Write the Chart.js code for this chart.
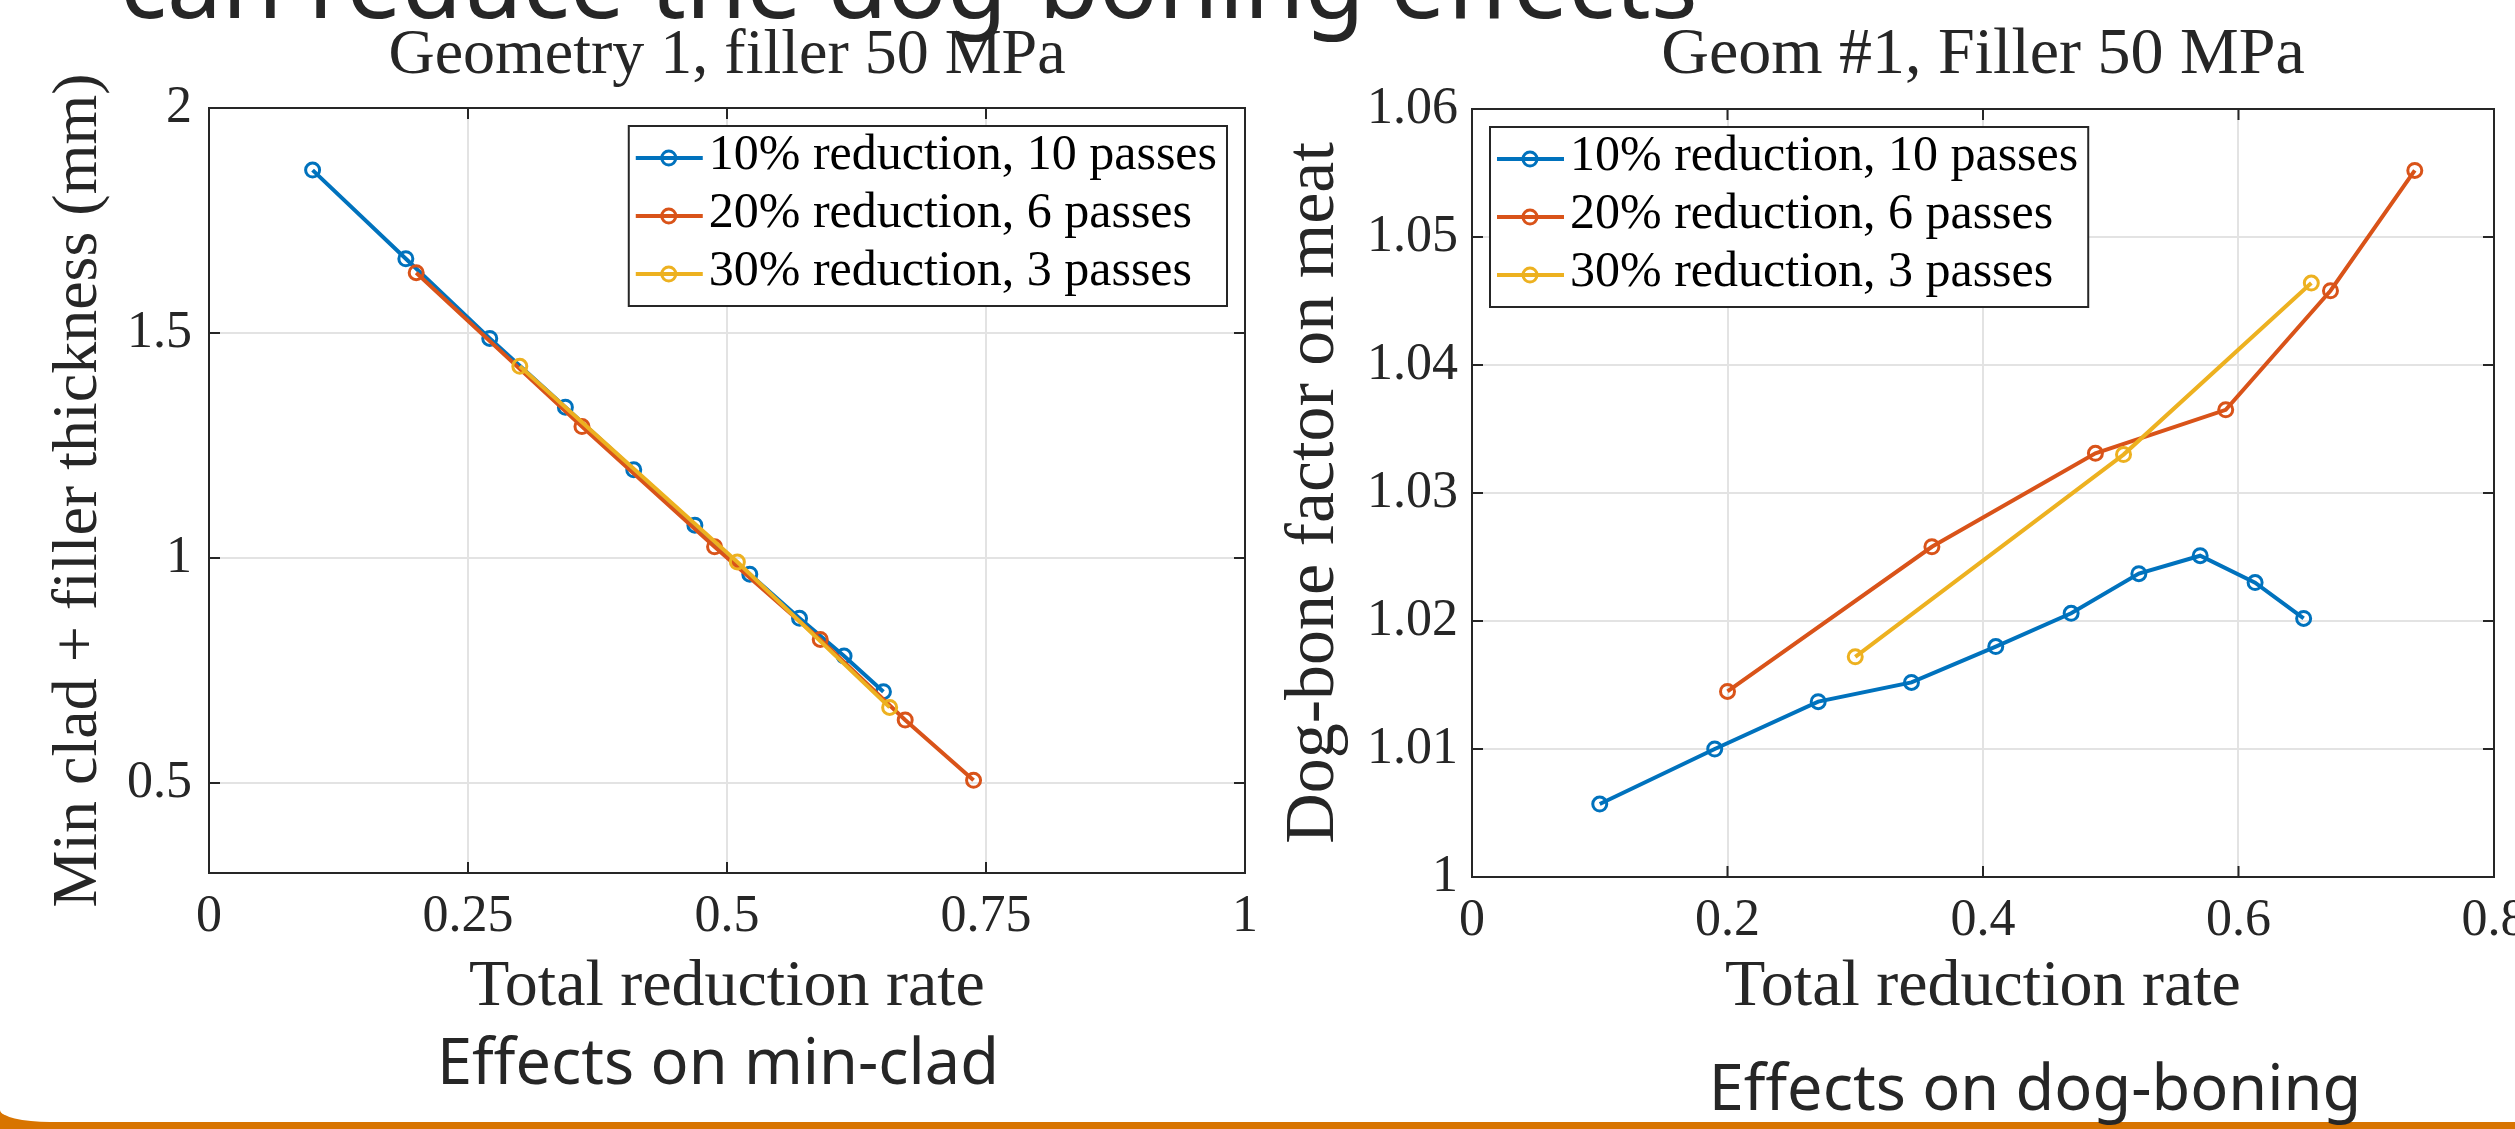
<!DOCTYPE html>
<html>
<head>
<meta charset="utf-8">
<script src="https://cdn.jsdelivr.net/npm/chart.js@4.4.1/dist/chart.umd.min.js"></script>
<style>
  html, body { margin: 0; padding: 0; background: #fff; }
  body { width: 2515px; height: 1129px; position: relative; overflow: hidden; }
  canvas { position: absolute; top: 0; }
  #minClad { left: 0; }
  #dogBone { left: 1250px; }
  .slide { position: absolute; font-family: 'Noto Sans', sans-serif; color: #262626; white-space: nowrap; }
  #heading { left: 120px; top: -69px; font-size: 98px; line-height: 98px; }
  .caption { font-size: 63px; line-height: 63px; width: 700px; text-align: center; z-index: 3; }
  #capLeft { left: 368px; top: 1028px; }
  #capRight { left: 1685px; top: 1054px; }
  #cornerFill { position: absolute; left: 0; top: 1100px; width: 80px; height: 29px; background: #d87400; }
  #cornerMask { position: absolute; left: 0; top: 1040px; width: 120px; height: 82px; background: #fff; border-bottom-left-radius: 50px 12px; }
  #bar { position: absolute; left: 0; top: 1122px; width: 2515px; height: 7px; background: #d87400; }
</style>
</head>
<body>
<div class="slide" id="heading">can reduce the dog-boning effects</div>
<canvas id="minClad" width="1262" height="1040"></canvas>
<canvas id="dogBone" width="1265" height="1040"></canvas>
<div id="cornerFill"></div>
<div id="cornerMask"></div>
<div id="bar"></div>
<div class="slide caption" id="capLeft">Effects on min-clad</div>
<div class="slide caption" id="capRight">Effects on dog-boning</div>
<script>
// total reduction rate after each pass
const rate10 = [0.100, 0.190, 0.271, 0.344, 0.410, 0.469, 0.522, 0.570, 0.613, 0.651];
const rate20 = [0.200, 0.360, 0.488, 0.590, 0.672, 0.738];
const rate30 = [0.300, 0.510, 0.657];

// min clad + filler thickness (mm)
const minClad10 = [1.862, 1.665, 1.488, 1.335, 1.196, 1.073, 0.964, 0.866, 0.782, 0.703];
const minClad20 = [1.634, 1.292, 1.025, 0.819, 0.640, 0.506];
const minClad30 = [1.426, 0.991, 0.668];

// dog-bone factor on meat
const dogBone10 = [1.0057, 1.0100, 1.0137, 1.0152, 1.0180, 1.0206, 1.0237, 1.0251, 1.0230, 1.0202];
const dogBone20 = [1.0145, 1.0258, 1.0331, 1.0365, 1.0458, 1.0552];
const dogBone30 = [1.0172, 1.0330, 1.0464];

const seriesNames = ['10% reduction, 10 passes', '20% reduction, 6 passes', '30% reduction, 3 passes'];

const leftXTicks = [0, 0.25, 0.5, 0.75, 1];
const leftYTicks = [0.5, 1, 1.5, 2];
const rightXTicks = [0, 0.2, 0.4, 0.6, 0.8];
const rightYTicks = [1, 1.01, 1.02, 1.03, 1.04, 1.05, 1.06];

const colors = ['#0072bd', '#d95319', '#edb120'];
const ink = '#262626';
const serif = "'Liberation Serif', 'Times New Roman', serif";

function pairs(xs, ys) {
  return xs.map((x, i) => ({ x: x, y: ys[i] }));
}

function makeDatasets(ys) {
  const xs = [rate10, rate20, rate30];
  return ys.map((y, i) => ({
    label: seriesNames[i],
    data: pairs(xs[i], y),
    borderColor: colors[i],
    borderWidth: 4,
    pointStyle: 'circle',
    pointRadius: 7,
    pointBorderWidth: 3,
    pointBackgroundColor: 'rgba(0,0,0,0)',
    pointBorderColor: colors[i],
    tension: 0,
    clip: false,
    order: 2 - i,
  }));
}

// box round the axes with inward tick marks, like matlab
const matlabAxes = {
  id: 'matlabAxes',
  beforeDatasetsDraw(chart) {
    const { ctx, chartArea: a, scales: { x, y } } = chart;
    const len = 11;
    ctx.save();
    ctx.strokeStyle = ink;
    ctx.lineWidth = 2;
    ctx.beginPath();
    x.ticks.forEach(t => {
      const px = x.getPixelForValue(t.value);
      ctx.moveTo(px, a.bottom); ctx.lineTo(px, a.bottom - len);
      ctx.moveTo(px, a.top); ctx.lineTo(px, a.top + len);
    });
    y.ticks.forEach(t => {
      const py = y.getPixelForValue(t.value);
      ctx.moveTo(a.left, py); ctx.lineTo(a.left + len, py);
      ctx.moveTo(a.right, py); ctx.lineTo(a.right - len, py);
    });
    ctx.rect(a.left, a.top, a.width, a.height);
    ctx.stroke();
    ctx.restore();
  }
};

// legend drawn as a box inside the plot area
const boxLegend = {
  id: 'boxLegend',
  afterDatasetsDraw(chart, args, opts) {
    const { ctx, chartArea: a } = chart;
    const sets = chart.data.datasets;
    ctx.save();
    ctx.font = opts.size + 'px ' + serif;
    const textW = Math.max(...sets.map(d => ctx.measureText(d.label).width));
    const w = 80 + textW + 10;
    const h = 64 + opts.rowGap * (sets.length - 1);
    const left = opts.corner === 'ne' ? a.right - opts.inset - w : a.left + opts.inset;
    const top = a.top + opts.inset;
    ctx.fillStyle = '#fff';
    ctx.fillRect(left, top, w, h);
    ctx.strokeStyle = ink;
    ctx.lineWidth = 2;
    ctx.strokeRect(left, top, w, h);
    sets.forEach((d, i) => {
      const cy = top + 32 + i * opts.rowGap;
      ctx.strokeStyle = d.borderColor;
      ctx.lineWidth = 4;
      ctx.beginPath();
      ctx.moveTo(left + 7, cy);
      ctx.lineTo(left + 74, cy);
      ctx.stroke();
      ctx.lineWidth = 3;
      ctx.beginPath();
      ctx.arc(left + 40, cy, 7, 0, Math.PI * 2);
      ctx.stroke();
      ctx.fillStyle = '#000';
      ctx.textAlign = 'left';
      ctx.textBaseline = 'middle';
      ctx.fillText(d.label, left + 80, cy - 2);
    });
    ctx.restore();
  }
};

function makeChart(id, o) {
  return new Chart(document.getElementById(id), {
    type: 'line',
    data: { datasets: makeDatasets(o.ys) },
    options: {
      responsive: false,
      animation: false,
      layout: { padding: { left: 0, right: o.padRight, top: 0, bottom: 0 } },
      plugins: {
        legend: { display: false },
        tooltip: { enabled: false },
        title: {
          display: true,
          text: o.title,
          fullSize: false,
          color: ink,
          font: { family: serif, size: o.titleSize, weight: 'normal', lineHeight: 1.2 },
          padding: { top: o.titleTop, bottom: o.titleBottom }
        },
        boxLegend: { corner: o.legendCorner, inset: 18, size: 50, rowGap: 58 }
      },
      scales: {
        x: {
          type: 'linear',
          min: o.xTicks[0],
          max: o.xTicks[o.xTicks.length - 1],
          afterBuildTicks: s => { s.ticks = o.xTicks.map(v => ({ value: v })); },
          afterFit: s => { s.height = o.xAxisHeight; s.paddingLeft = 0; s.paddingRight = 0; },
          grid: { color: '#e3e3e3', lineWidth: 2, drawTicks: false },
          border: { display: false },
          ticks: {
            color: ink, padding: 13, maxRotation: 0, autoSkip: false,
            font: { family: serif, size: 52 },
            callback: v => String(v)
          },
          title: {
            display: true, text: 'Total reduction rate', color: ink,
            font: { family: serif, size: 66, lineHeight: 1.2 },
            padding: { top: 0, bottom: 13 }
          }
        },
        y: {
          type: 'linear',
          min: o.yMin,
          max: o.yTicks[o.yTicks.length - 1],
          afterBuildTicks: s => { s.ticks = o.yTicks.map(v => ({ value: v })); },
          afterFit: s => { s.width = o.yAxisWidth; s.paddingTop = 0; s.paddingBottom = 0; },
          grid: { color: '#e3e3e3', lineWidth: 2, drawTicks: false },
          border: { display: false },
          ticks: {
            color: ink, padding: o.yTickPad, autoSkip: false,
            font: { family: serif, size: 52 },
            callback: v => String(v)
          },
          title: {
            display: true, text: o.yTitle, color: ink,
            font: { family: serif, size: o.yTitleSize, lineHeight: 1.2 },
            padding: { top: o.yTitlePad, bottom: 0 }
          }
        }
      }
    },
    plugins: [matlabAxes, boxLegend]
  });
}

makeChart('minClad', {
  ys: [minClad10, minClad20, minClad30],
  title: 'Geometry 1, filler 50 MPa',
  titleSize: 64,
  titleTop: 18,
  titleBottom: 13.2,
  yTitle: 'Min clad + filler thickness (mm)',
  yTitleSize: 64,
  yTitlePad: 41,
  xTicks: leftXTicks,
  yTicks: leftYTicks,
  yMin: 0.3,
  padRight: 17,
  xAxisHeight: 167,
  yAxisWidth: 209,
  yTickPad: 17,
  legendCorner: 'ne'
});

makeChart('dogBone', {
  ys: [dogBone10, dogBone20, dogBone30],
  title: 'Geom #1, Filler 50 MPa',
  titleSize: 66,
  titleTop: 16,
  titleBottom: 13.8,
  yTitle: 'Dog-bone factor on meat',
  yTitleSize: 70,
  yTitlePad: 23,
  xTicks: rightXTicks,
  yTicks: rightYTicks,
  yMin: 1,
  padRight: 21,
  xAxisHeight: 163,
  yAxisWidth: 222,
  yTickPad: 14,
  legendCorner: 'nw'
});
</script>
</body>
</html>
